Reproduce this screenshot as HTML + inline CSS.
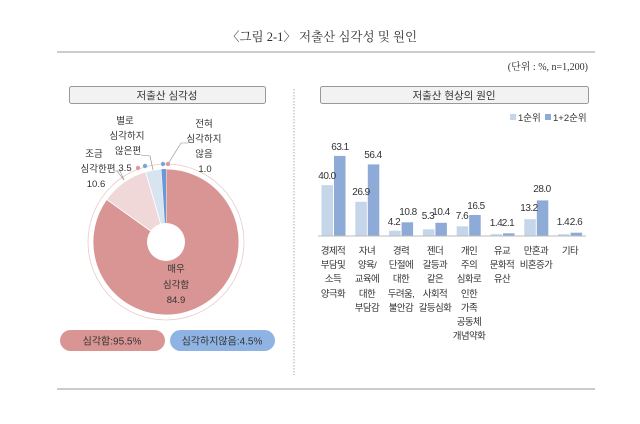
<!DOCTYPE html>
<html><head><meta charset="utf-8"><style>
body{margin:0;background:#fff;}
svg text{font-family:"Liberation Sans","Noto Sans CJK KR",sans-serif;fill:#333;}
</style></head><body>
<svg width="640" height="419" viewBox="0 0 640 419" xmlns="http://www.w3.org/2000/svg">
<text x="322" y="41" font-size="12.5" text-anchor="middle" style="font-family:'Liberation Serif','Noto Serif CJK SC',serif">〈그림 2-1〉 저출산 심각성 및 원인</text>
<line x1="57" y1="52" x2="595" y2="52" stroke="#999" stroke-width="1"/>
<text x="588" y="70" font-size="10" text-anchor="end" style="font-family:'Liberation Serif','Noto Serif CJK SC',serif">(단위 : %, n=1,200)</text>
<line x1="57" y1="389" x2="595" y2="389" stroke="#999" stroke-width="1"/>
<line x1="294" y1="89" x2="294" y2="375" stroke="#aaa" stroke-width="1" stroke-dasharray="1.5,1.5"/>
<rect x="69.5" y="86.5" width="196" height="17" rx="2" fill="#f2f2f2" stroke="#999"/>
<text x="167" y="99" font-size="10.5" text-anchor="middle">저출산 심각성</text>
<rect x="320.5" y="86.5" width="268" height="17" rx="2" fill="#f2f2f2" stroke="#999"/>
<text x="454" y="99" font-size="10.5" text-anchor="middle">저출산 현상의 원인</text>

<!-- pie -->
<circle cx="166" cy="242" r="78" fill="none" stroke="#ecc9c9" stroke-width="0.8"/>
<path d="M166,242 L166,169 A73,73 0 1 1 106.7,199.4 Z" fill="#d99594" stroke="#fff" stroke-width="0.8"/>
<path d="M166,242 L106.7,199.4 A73,73 0 0 1 145.6,171.9 Z" fill="#f0d8d8" stroke="#fff" stroke-width="0.8"/>
<path d="M166,242 L145.6,171.9 A73,73 0 0 1 161.4,169.1 Z" fill="#d9e4f1" stroke="#fff" stroke-width="0.8"/>
<path d="M166,242 L161.4,169.1 A73,73 0 0 1 166,169 Z" fill="#6a9ad6"/>
<circle cx="166" cy="242" r="19" fill="#fff"/>
<text font-size="9.5" text-anchor="middle"><tspan x="176" y="272">매우</tspan><tspan x="176" y="288">심각함</tspan><tspan x="176" y="303">84.9</tspan></text>
<text font-size="9.5" text-anchor="middle"><tspan x="94" y="157">조금</tspan><tspan x="98" y="172">심각한편</tspan><tspan x="96" y="187">10.6</tspan></text>
<text font-size="9.5" text-anchor="middle"><tspan x="125" y="124">별로</tspan><tspan x="127" y="139">심각하지</tspan><tspan x="128" y="154">않은편</tspan><tspan x="125" y="171">3.5</tspan></text>
<text font-size="9.5" text-anchor="middle"><tspan x="204" y="127">전혀</tspan><tspan x="204" y="142">심각하지</tspan><tspan x="204" y="157">않음</tspan><tspan x="205" y="172">1.0</tspan></text>
<polyline points="117,171 124,180" fill="none" stroke="#888" stroke-width="0.6"/>
<polyline points="113,171 120,171 124,180" fill="none" stroke="#888" stroke-width="0.6"/>
<polyline points="141,155 150,156 153,170" fill="none" stroke="#888" stroke-width="0.6"/>
<polyline points="188,143 181,143 168,164" fill="none" stroke="#888" stroke-width="0.6"/>
<circle cx="138" cy="168" r="2.2" fill="#e09a98"/>
<circle cx="145" cy="166" r="2.2" fill="#7aa6dc"/>
<circle cx="163" cy="164" r="2.2" fill="#7aa6dc"/>
<circle cx="168" cy="164" r="2.2" fill="#e09a98"/>

<rect x="60" y="330" width="105" height="21" rx="10.5" fill="#d99594"/>
<text x="112" y="344.5" font-size="10" text-anchor="middle">심각함:95.5%</text>
<rect x="170" y="330" width="105" height="21" rx="10.5" fill="#8fb4e3"/>
<text x="222" y="344.5" font-size="10" text-anchor="middle">심각하지않음:4.5%</text>

<!-- legend -->
<rect x="510" y="114" width="6" height="6" fill="#c5d5ea"/>
<text x="518" y="121" font-size="9.5">1순위</text>
<rect x="545" y="114" width="6" height="6" fill="#8eaad6"/>
<text x="553" y="121" font-size="9.5">1+2순위</text>

<g font-size="10" text-anchor="middle" letter-spacing="-0.5">
<rect x="321.5" y="185.2" width="11.5" height="50.8" fill="#c5d5ea"/><rect x="334" y="155.9" width="11.5" height="80.1" fill="#8eaad6"/>
<text x="327" y="179">40.0</text><text x="340" y="150">63.1</text>
<rect x="355.3" y="201.8" width="11.5" height="34.2" fill="#c5d5ea"/><rect x="367.8" y="164.4" width="11.5" height="71.6" fill="#8eaad6"/>
<text x="361" y="195">26.9</text><text x="373" y="158">56.4</text>
<rect x="389.1" y="230.7" width="11.5" height="5.3" fill="#c5d5ea"/><rect x="401.6" y="222.3" width="11.5" height="13.7" fill="#8eaad6"/>
<text x="394" y="225">4.2</text><text x="408" y="215">10.8</text>
<rect x="422.9" y="229.3" width="11.5" height="6.7" fill="#c5d5ea"/><rect x="435.4" y="222.8" width="11.5" height="13.2" fill="#8eaad6"/>
<text x="428" y="219">5.3</text><text x="441" y="215">10.4</text>
<rect x="456.7" y="226.3" width="11.5" height="9.7" fill="#c5d5ea"/><rect x="469.2" y="215" width="11.5" height="21" fill="#8eaad6"/>
<text x="462" y="219">7.6</text><text x="476" y="209">16.5</text>
<rect x="490.5" y="234.2" width="11.5" height="1.8" fill="#c5d5ea"/><rect x="503" y="233.3" width="11.5" height="2.7" fill="#8eaad6"/>
<text x="496" y="226">1.4</text><text x="508" y="226">2.1</text>
<rect x="524.3" y="219.2" width="11.5" height="16.8" fill="#c5d5ea"/><rect x="536.8" y="200.4" width="11.5" height="35.6" fill="#8eaad6"/>
<text x="529" y="211">13.2</text><text x="542" y="192">28.0</text>
<rect x="558.1" y="234.2" width="11.5" height="1.8" fill="#c5d5ea"/><rect x="570.6" y="232.7" width="11.5" height="3.3" fill="#8eaad6"/>
<text x="563" y="225">1.4</text><text x="576" y="225">2.6</text>
</g>
<line x1="318" y1="236" x2="586" y2="236" stroke="#bbb" stroke-width="1"/>

<g font-size="9.5" text-anchor="middle" letter-spacing="-0.6">
<text><tspan x="333" y="254">경제적</tspan><tspan x="333" y="268">부담및</tspan><tspan x="333" y="282">소득</tspan><tspan x="333" y="297">양극화</tspan></text>
<text><tspan x="367" y="254">자녀</tspan><tspan x="367" y="268">양육/</tspan><tspan x="367" y="282">교육에</tspan><tspan x="367" y="297">대한</tspan><tspan x="367" y="311">부담감</tspan></text>
<text><tspan x="401" y="254">경력</tspan><tspan x="401" y="268">단절에</tspan><tspan x="401" y="282">대한</tspan><tspan x="401" y="297">두려움,</tspan><tspan x="401" y="311">불안감</tspan></text>
<text><tspan x="435" y="254">젠더</tspan><tspan x="435" y="268">갈등과</tspan><tspan x="435" y="282">같은</tspan><tspan x="435" y="297">사회적</tspan><tspan x="435" y="311">갈등심화</tspan></text>
<text><tspan x="469" y="254">개인</tspan><tspan x="469" y="268">주의</tspan><tspan x="469" y="282">심화로</tspan><tspan x="469" y="297">인한</tspan><tspan x="469" y="311">가족</tspan><tspan x="469" y="325">공동체</tspan><tspan x="469" y="339">개념약화</tspan></text>
<text><tspan x="502" y="254">유교</tspan><tspan x="502" y="268">문화적</tspan><tspan x="502" y="282">유산</tspan></text>
<text><tspan x="536" y="254">만혼과</tspan><tspan x="536" y="268">비혼증가</tspan></text>
<text><tspan x="570" y="254">기타</tspan></text>
</g>
</svg>
</body></html>
